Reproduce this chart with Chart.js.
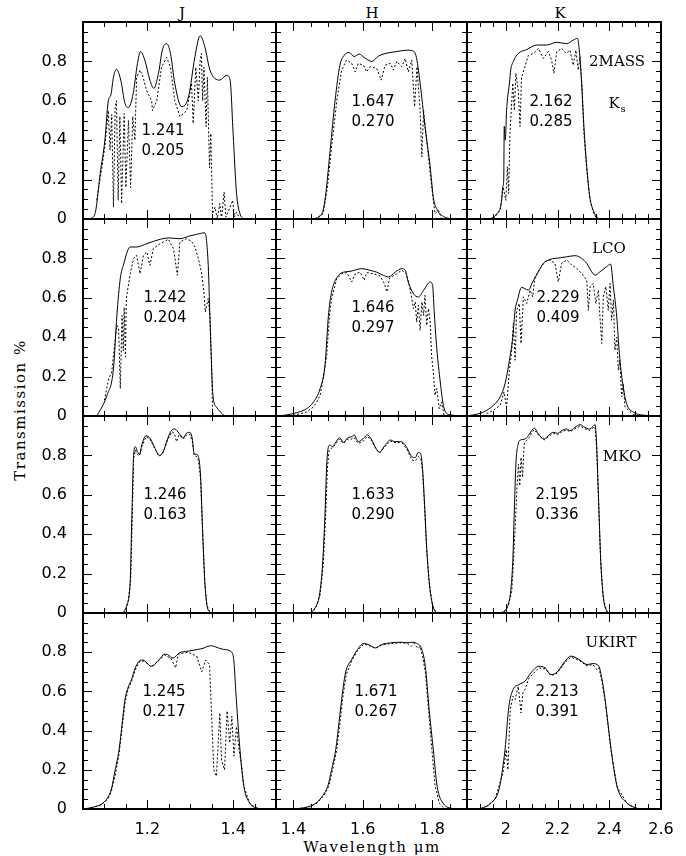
<!DOCTYPE html>
<html>
<head>
<meta charset="utf-8">
<script src="https://cdn.jsdelivr.net/npm/chart.js@4.4.0/dist/chart.umd.min.js"></script>
<style>
  html, body { margin: 0; padding: 0; background: #fff; }
  #wrap { position: relative; width: 686px; height: 856px; overflow: hidden; }
  #wrap canvas { position: absolute; left: 0; top: 0; }
  .lbl { position: absolute; font-family: "DejaVu Serif", serif; font-size: 15px; color: #000;
         white-space: nowrap; transform: translate(-50%, -50%); }
</style>
</head>
<body>
<div id="wrap">
  <div class="lbl" style="left:182px;top:13px">J</div>
  <div class="lbl" style="left:372px;top:13px">H</div>
  <div class="lbl" style="left:560px;top:13px">K</div>
  <div class="lbl" style="left:20px;top:410px;letter-spacing:1.5px;transform:translate(-50%,-50%) rotate(-90deg)">Transmission %</div>
  <div class="lbl" style="left:372px;top:847px;letter-spacing:1.5px">Wavelength &mu;m</div>
</div>
<script>
// axis limits and tick labels
var xLimits = [[1.05, 1.5], [1.35, 1.9], [1.85, 2.6]];
var jTicks = [1.2, 1.4];
var hTicks = [1.4, 1.6, 1.8];
var kTicks = [2, 2.2, 2.4, 2.6];
var yTicks = [0, 0.2, 0.4, 0.6, 0.8];

var systems = ['2MASS', 'LCO', 'MKO', 'UKIRT'];
var lambdaEff = [[1.241, 1.647, 2.162], [1.242, 1.646, 2.229], [1.246, 1.633, 2.195], [1.245, 1.671, 2.213]];
var bandWidth = [[0.205, 0.270, 0.285], [0.204, 0.297, 0.409], [0.163, 0.290, 0.336], [0.217, 0.267, 0.391]];

// [wavelength, transmission]; solid = filter, dotted = filter x atmosphere
var tmJ = [[1.066,0],[1.078,0.027],[1.090,0.23],[1.101,0.40],[1.109,0.60],[1.115,0.63],[1.121,0.72],[1.128,0.76],[1.138,0.705],[1.148,0.586],[1.156,0.566],[1.167,0.637],[1.177,0.79],[1.184,0.85],[1.194,0.807],[1.206,0.705],[1.215,0.663],[1.226,0.739],[1.235,0.858],[1.245,0.89],[1.254,0.84],[1.264,0.688],[1.28,0.57],[1.296,0.62],[1.311,0.824],[1.323,0.93],[1.334,0.875],[1.346,0.756],[1.369,0.705],[1.385,0.73],[1.393,0.705],[1.40,0.434],[1.408,0.13],[1.416,0.027],[1.424,0]];
var tmJAtm = [[1.082,0.095],[1.094,0.26],[1.101,0.366],[1.109,0.55],[1.113,0.35],[1.117,0.53],[1.121,0.06],[1.125,0.57],[1.128,0.60],[1.132,0.095],[1.136,0.52],[1.14,0.078],[1.146,0.535],[1.15,0.16],[1.156,0.50],[1.161,0.16],[1.166,0.52],[1.171,0.40],[1.175,0.72],[1.183,0.756],[1.19,0.72],[1.198,0.654],[1.21,0.60],[1.212,0.55],[1.222,0.60],[1.233,0.77],[1.245,0.82],[1.254,0.77],[1.264,0.60],[1.276,0.52],[1.292,0.55],[1.303,0.69],[1.307,0.485],[1.313,0.77],[1.319,0.60],[1.323,0.80],[1.326,0.84],[1.329,0.60],[1.332,0.77],[1.337,0.47],[1.34,0.72],[1.345,0.26],[1.348,0.434],[1.352,0.027],[1.358,0.06],[1.363,0],[1.369,0.078],[1.373,0],[1.379,0.137],[1.383,0.01],[1.393,0.06],[1.399,0.095],[1.403,0.01],[1.408,0.035],[1.416,0]];
var tmH = [[1.458,0],[1.482,0.027],[1.491,0.095],[1.506,0.35],[1.52,0.60],[1.534,0.78],[1.546,0.83],[1.561,0.845],[1.575,0.825],[1.59,0.837],[1.604,0.82],[1.626,0.80],[1.645,0.827],[1.664,0.84],[1.698,0.85],[1.727,0.857],[1.741,0.855],[1.753,0.83],[1.765,0.69],[1.779,0.47],[1.794,0.265],[1.803,0.11],[1.813,0.05],[1.832,0.013],[1.856,0]];
var tmHAtm = [[1.462,0],[1.486,0.027],[1.498,0.16],[1.511,0.38],[1.525,0.60],[1.539,0.756],[1.553,0.807],[1.568,0.79],[1.578,0.747],[1.587,0.79],[1.602,0.78],[1.611,0.747],[1.621,0.773],[1.64,0.764],[1.653,0.705],[1.664,0.78],[1.679,0.79],[1.688,0.756],[1.698,0.80],[1.712,0.773],[1.722,0.815],[1.731,0.747],[1.741,0.807],[1.749,0.57],[1.756,0.773],[1.765,0.55],[1.77,0.315],[1.775,0.55],[1.784,0.40],[1.794,0.23],[1.803,0.095],[1.808,0.027],[1.818,0.044],[1.827,0]];
var tmK = [[1.939,0],[1.965,0.027],[1.984,0.095],[1.988,0.163],[1.992,0.197],[1.994,0.47],[1.998,0.40],[2.003,0.55],[2.014,0.69],[2.019,0.756],[2.029,0.80],[2.048,0.84],[2.081,0.86],[2.12,0.883],[2.158,0.883],[2.197,0.897],[2.235,0.89],[2.261,0.908],[2.277,0.917],[2.284,0.858],[2.293,0.69],[2.302,0.47],[2.313,0.265],[2.325,0.11],[2.338,0.044],[2.358,0]];
var tmKAtm = [[1.952,0],[1.978,0.044],[1.99,0.163],[2.0,0.095],[2.006,0.265],[2.011,0.13],[2.016,0.434],[2.021,0.55],[2.027,0.69],[2.033,0.55],[2.039,0.74],[2.048,0.654],[2.055,0.47],[2.061,0.72],[2.074,0.773],[2.087,0.83],[2.106,0.84],[2.126,0.866],[2.145,0.815],[2.164,0.85],[2.177,0.807],[2.186,0.74],[2.197,0.85],[2.216,0.866],[2.233,0.84],[2.248,0.857],[2.261,0.78],[2.271,0.857],[2.28,0.756],[2.287,0.824],[2.295,0.67],[2.302,0.434],[2.313,0.247],[2.325,0.103],[2.338,0.036],[2.351,0]];

var lcoJ = [[1.0825,0],[1.106,0.105],[1.121,0.24],[1.129,0.51],[1.137,0.70],[1.144,0.765],[1.16,0.858],[1.175,0.858],[1.199,0.875],[1.23,0.897],[1.249,0.904],[1.276,0.90],[1.299,0.914],[1.315,0.922],[1.334,0.93],[1.342,0.765],[1.347,0.426],[1.353,0.105],[1.361,0.046],[1.38,0]];
var lcoJAtm = [[1.1,0.08],[1.11,0.19],[1.117,0.223],[1.121,0.308],[1.129,0.46],[1.133,0.443],[1.137,0.139],[1.141,0.51],[1.144,0.33],[1.146,0.55],[1.149,0.30],[1.151,0.596],[1.16,0.722],[1.168,0.80],[1.175,0.816],[1.183,0.722],[1.191,0.816],[1.199,0.832],[1.206,0.765],[1.214,0.85],[1.23,0.875],[1.249,0.897],[1.261,0.85],[1.27,0.714],[1.276,0.883],[1.291,0.90],[1.303,0.887],[1.311,0.858],[1.319,0.80],[1.326,0.73],[1.332,0.63],[1.335,0.528],[1.342,0.596],[1.346,0.51],[1.35,0.257],[1.352,0.02],[1.355,0]];
var lcoH = [[1.35,0],[1.371,0.003],[1.41,0.017],[1.438,0.037],[1.458,0.071],[1.477,0.139],[1.491,0.257],[1.501,0.51],[1.508,0.61],[1.515,0.663],[1.53,0.714],[1.544,0.73],[1.563,0.734],[1.582,0.743],[1.597,0.748],[1.621,0.739],[1.64,0.73],[1.659,0.714],[1.674,0.706],[1.693,0.73],[1.712,0.748],[1.722,0.74],[1.731,0.68],[1.746,0.62],[1.76,0.604],[1.775,0.638],[1.794,0.68],[1.801,0.663],[1.805,0.545],[1.813,0.342],[1.823,0.173],[1.832,0.054],[1.847,0.008],[1.9,0]];
var lcoHAtm = [[1.4,0.003],[1.438,0.02],[1.458,0.046],[1.467,0.071],[1.477,0.105],[1.486,0.19],[1.496,0.308],[1.504,0.51],[1.51,0.596],[1.525,0.697],[1.539,0.722],[1.554,0.728],[1.568,0.68],[1.578,0.722],[1.592,0.73],[1.604,0.689],[1.611,0.728],[1.63,0.722],[1.65,0.71],[1.662,0.672],[1.669,0.63],[1.677,0.70],[1.698,0.722],[1.712,0.74],[1.725,0.722],[1.734,0.663],[1.741,0.596],[1.746,0.545],[1.751,0.579],[1.755,0.477],[1.76,0.562],[1.765,0.435],[1.77,0.579],[1.775,0.51],[1.779,0.613],[1.784,0.46],[1.789,0.545],[1.794,0.477],[1.798,0.308],[1.803,0.223],[1.808,0.105],[1.813,0.139],[1.82,0.037],[1.827,0.071],[1.834,0.003],[1.842,0]];
var lcoK = [[1.85,0.002],[1.862,0.003],[1.913,0.02],[1.952,0.054],[1.978,0.097],[1.997,0.164],[2.014,0.283],[2.027,0.40],[2.036,0.537],[2.045,0.588],[2.061,0.653],[2.087,0.639],[2.104,0.681],[2.126,0.732],[2.145,0.775],[2.171,0.795],[2.21,0.803],[2.235,0.808],[2.268,0.814],[2.293,0.80],[2.313,0.775],[2.332,0.732],[2.345,0.715],[2.364,0.732],[2.39,0.758],[2.405,0.771],[2.416,0.656],[2.429,0.503],[2.439,0.317],[2.452,0.164],[2.467,0.063],[2.493,0.02],[2.545,0.003],[2.6,0]];
var lcoKAtm = [[1.926,0.012],[1.952,0.029],[1.978,0.054],[1.993,0.122],[2.003,0.046],[2.014,0.232],[2.023,0.334],[2.029,0.469],[2.036,0.283],[2.042,0.537],[2.052,0.571],[2.059,0.368],[2.068,0.605],[2.081,0.571],[2.094,0.639],[2.104,0.605],[2.113,0.707],[2.132,0.749],[2.152,0.783],[2.171,0.792],[2.19,0.775],[2.203,0.681],[2.216,0.775],[2.235,0.792],[2.255,0.766],[2.274,0.749],[2.293,0.724],[2.313,0.69],[2.319,0.537],[2.326,0.656],[2.338,0.673],[2.348,0.571],[2.358,0.639],[2.364,0.503],[2.371,0.368],[2.377,0.605],[2.387,0.656],[2.396,0.537],[2.403,0.673],[2.409,0.486],[2.416,0.588],[2.422,0.334],[2.429,0.40],[2.435,0.232],[2.441,0.283],[2.448,0.097],[2.454,0.164],[2.461,0.046],[2.474,0.029],[2.493,0.008],[2.519,0]];

var mkoJ = [[1.144,0],[1.152,0.04],[1.16,0.16],[1.164,0.497],[1.168,0.80],[1.172,0.844],[1.177,0.819],[1.182,0.805],[1.187,0.853],[1.197,0.90],[1.206,0.887],[1.218,0.836],[1.228,0.799],[1.237,0.819],[1.247,0.883],[1.257,0.929],[1.264,0.934],[1.274,0.912],[1.284,0.89],[1.291,0.912],[1.299,0.917],[1.305,0.883],[1.309,0.81],[1.315,0.805],[1.319,0.794],[1.324,0.70],[1.329,0.413],[1.334,0.159],[1.339,0.04],[1.347,0]];
var mkoJAtm = [[1.146,0],[1.154,0.04],[1.161,0.16],[1.165,0.497],[1.168,0.785],[1.172,0.827],[1.177,0.805],[1.182,0.799],[1.187,0.844],[1.197,0.895],[1.206,0.883],[1.218,0.832],[1.228,0.795],[1.237,0.815],[1.247,0.876],[1.257,0.92],[1.263,0.912],[1.268,0.87],[1.274,0.904],[1.284,0.883],[1.291,0.904],[1.299,0.907],[1.305,0.87],[1.309,0.799],[1.315,0.794],[1.319,0.777],[1.324,0.684],[1.329,0.404],[1.334,0.151],[1.339,0.037],[1.347,0]];
var mkoH = [[1.448,0],[1.462,0.024],[1.475,0.091],[1.484,0.244],[1.491,0.497],[1.496,0.751],[1.5,0.836],[1.506,0.853],[1.512,0.844],[1.52,0.861],[1.533,0.89],[1.544,0.866],[1.557,0.89],[1.568,0.895],[1.575,0.904],[1.587,0.87],[1.602,0.887],[1.613,0.904],[1.626,0.878],[1.638,0.836],[1.648,0.816],[1.661,0.844],[1.679,0.878],[1.693,0.87],[1.705,0.87],[1.715,0.866],[1.727,0.839],[1.741,0.794],[1.751,0.789],[1.76,0.816],[1.767,0.805],[1.772,0.734],[1.777,0.582],[1.784,0.328],[1.792,0.142],[1.801,0.04],[1.811,0]];
var mkoHAtm = [[1.45,0],[1.464,0.024],[1.477,0.091],[1.486,0.244],[1.493,0.497],[1.498,0.734],[1.503,0.827],[1.512,0.839],[1.52,0.853],[1.533,0.883],[1.544,0.861],[1.557,0.883],[1.568,0.883],[1.575,0.89],[1.587,0.86],[1.602,0.874],[1.613,0.897],[1.626,0.873],[1.638,0.832],[1.648,0.812],[1.661,0.839],[1.679,0.873],[1.693,0.865],[1.705,0.865],[1.715,0.86],[1.727,0.832],[1.741,0.777],[1.751,0.772],[1.76,0.794],[1.767,0.785],[1.772,0.717],[1.777,0.565],[1.784,0.32],[1.792,0.139],[1.801,0.037],[1.811,0]];
var mkoK = [[1.978,0],[1.997,0.012],[2.01,0.046],[2.019,0.113],[2.027,0.266],[2.033,0.52],[2.039,0.756],[2.048,0.858],[2.057,0.878],[2.074,0.883],[2.087,0.90],[2.1,0.926],[2.11,0.939],[2.126,0.909],[2.148,0.883],[2.168,0.905],[2.184,0.917],[2.2,0.912],[2.216,0.926],[2.235,0.934],[2.248,0.926],[2.267,0.942],[2.287,0.956],[2.306,0.942],[2.323,0.934],[2.336,0.946],[2.345,0.956],[2.351,0.858],[2.358,0.604],[2.367,0.266],[2.377,0.08],[2.39,0.012],[2.403,0]];
var mkoKAtm = [[1.98,0],[2.0,0.012],[2.012,0.046],[2.023,0.113],[2.03,0.266],[2.038,0.486],[2.044,0.655],[2.049,0.756],[2.054,0.646],[2.059,0.79],[2.065,0.689],[2.071,0.858],[2.08,0.875],[2.091,0.892],[2.1,0.917],[2.11,0.931],[2.126,0.904],[2.148,0.878],[2.168,0.898],[2.184,0.912],[2.2,0.905],[2.216,0.919],[2.235,0.929],[2.248,0.92],[2.267,0.935],[2.287,0.949],[2.306,0.935],[2.323,0.927],[2.336,0.939],[2.345,0.946],[2.351,0.841],[2.358,0.587],[2.367,0.257],[2.377,0.076],[2.39,0.008],[2.403,0]];

var ukJ = [[1.05,0],[1.075,0.01],[1.097,0.03],[1.108,0.06],[1.116,0.1],[1.125,0.2],[1.134,0.30],[1.142,0.45],[1.148,0.56],[1.155,0.62],[1.163,0.66],[1.172,0.72],[1.181,0.754],[1.19,0.76],[1.195,0.754],[1.209,0.728],[1.228,0.763],[1.24,0.79],[1.247,0.788],[1.26,0.77],[1.275,0.797],[1.294,0.805],[1.317,0.814],[1.33,0.82],[1.341,0.83],[1.35,0.833],[1.359,0.827],[1.378,0.814],[1.397,0.80],[1.402,0.75],[1.406,0.609],[1.416,0.303],[1.425,0.116],[1.439,0.03],[1.462,0]];
var ukJAtm = [[1.06,0],[1.09,0.02],[1.108,0.05],[1.116,0.09],[1.125,0.17],[1.134,0.28],[1.142,0.43],[1.148,0.54],[1.155,0.61],[1.163,0.65],[1.172,0.71],[1.181,0.75],[1.19,0.755],[1.195,0.75],[1.209,0.725],[1.228,0.76],[1.24,0.785],[1.255,0.77],[1.266,0.72],[1.272,0.79],[1.294,0.80],[1.305,0.79],[1.315,0.78],[1.327,0.70],[1.336,0.76],[1.345,0.737],[1.35,0.47],[1.355,0.2],[1.361,0.167],[1.369,0.49],[1.373,0.25],[1.38,0.20],[1.386,0.50],[1.392,0.337],[1.397,0.473],[1.402,0.27],[1.408,0.42],[1.414,0.30],[1.42,0.218],[1.425,0.116],[1.439,0.027],[1.458,0]];
var ukH = [[1.4,0],[1.44,0.01],[1.465,0.03],[1.485,0.07],[1.499,0.116],[1.51,0.2],[1.522,0.303],[1.532,0.45],[1.539,0.558],[1.55,0.694],[1.568,0.763],[1.585,0.814],[1.602,0.844],[1.615,0.84],[1.625,0.83],[1.636,0.822],[1.654,0.839],[1.682,0.848],[1.711,0.851],[1.728,0.848],[1.745,0.851],[1.755,0.845],[1.768,0.822],[1.78,0.728],[1.791,0.507],[1.803,0.303],[1.814,0.116],[1.831,0.03],[1.86,0]];
var ukHAtm = [[1.41,0],[1.445,0.01],[1.468,0.03],[1.488,0.07],[1.502,0.116],[1.513,0.2],[1.525,0.303],[1.535,0.45],[1.541,0.55],[1.552,0.685],[1.568,0.755],[1.585,0.81],[1.602,0.84],[1.615,0.837],[1.625,0.828],[1.636,0.82],[1.654,0.836],[1.682,0.845],[1.711,0.848],[1.728,0.845],[1.74,0.83],[1.748,0.845],[1.758,0.82],[1.765,0.83],[1.772,0.78],[1.78,0.70],[1.79,0.49],[1.8,0.28],[1.808,0.12],[1.82,0.03],[1.835,0]];
var ukK = [[1.896,0],[1.943,0.03],[1.974,0.1],[1.987,0.2],[1.997,0.303],[2.012,0.524],[2.028,0.609],[2.051,0.635],[2.074,0.652],[2.097,0.694],[2.128,0.728],[2.152,0.72],[2.175,0.686],[2.198,0.698],[2.229,0.754],[2.252,0.78],[2.283,0.763],[2.314,0.737],[2.337,0.742],[2.36,0.728],[2.372,0.66],[2.384,0.558],[2.407,0.303],[2.43,0.116],[2.469,0.03],[2.515,0]];
var ukKAtm = [[1.912,0],[1.958,0.048],[1.989,0.184],[2.002,0.303],[2.008,0.2],[2.017,0.507],[2.028,0.575],[2.036,0.558],[2.048,0.626],[2.059,0.49],[2.066,0.592],[2.074,0.609],[2.09,0.669],[2.128,0.72],[2.152,0.715],[2.175,0.68],[2.198,0.692],[2.229,0.748],[2.252,0.775],[2.283,0.758],[2.314,0.73],[2.337,0.737],[2.352,0.711],[2.36,0.72],[2.372,0.65],[2.384,0.55],[2.407,0.3],[2.43,0.113],[2.469,0.028],[2.51,0]];

var curves = [
  [[tmJ, tmJAtm], [tmH, tmHAtm], [tmK, tmKAtm]],
  [[lcoJ, lcoJAtm], [lcoH, lcoHAtm], [lcoK, lcoKAtm]],
  [[mkoJ, mkoJAtm], [mkoH, mkoHAtm], [mkoK, mkoKAtm]],
  [[ukJ, ukJAtm], [ukH, ukHAtm], [ukK, ukKAtm]]
];
var xTicks = [jTicks, hTicks, kTicks];

// page layout (pixels)
var colX = [83, 276, 467, 661];
var rowY = [22, 219, 416, 613, 809];
var xAxisH = 30;
// centre of the first number line in each panel
var numPos = [
  [[163, 131], [373, 102], [551, 102]],
  [[165, 298], [373, 308], [558, 298]],
  [[165, 495], [373, 495], [557, 495]],
  [[164, 692], [376, 692], [557, 692]]
];
var namePos = [[617, 62], [609, 249], [622, 457], [611, 643]];

var numFont = '15px "DejaVu Sans"';
var serifFont = '15px "DejaVu Serif"';

var panelFrame = {
  id: 'panelFrame',
  afterDraw: function(chart, args, opts) {
    var ctx = chart.ctx, a = chart.chartArea;
    var xs = chart.scales.x, ys = chart.scales.y;
    ctx.save();
    ctx.strokeStyle = '#000';
    ctx.lineWidth = 1;
    ctx.beginPath();
    var i, p, len;
    for (i = Math.ceil(xs.min * 20 - 1e-6); i <= Math.floor(xs.max * 20 + 1e-6); i++) {
      p = Math.round(xs.getPixelForValue(i / 20)) + 0.5;
      len = (i % 4 === 0) ? 9 : 5;
      ctx.moveTo(p, a.bottom); ctx.lineTo(p, a.bottom - len);
      ctx.moveTo(p, a.top); ctx.lineTo(p, a.top + len);
    }
    for (i = 0; i <= 20; i++) {
      p = Math.round(ys.getPixelForValue(i / 20)) + 0.5;
      len = (i % 4 === 0) ? 9 : 5;
      ctx.moveTo(a.left, p); ctx.lineTo(a.left + len, p);
      ctx.moveTo(a.right, p); ctx.lineTo(a.right - len, p);
    }
    ctx.stroke();
    ctx.lineWidth = 2;
    ctx.strokeRect(a.left, a.top, a.right - a.left, a.bottom - a.top);

    ctx.fillStyle = '#000';
    ctx.textAlign = 'center';
    ctx.textBaseline = 'middle';
    ctx.font = numFont;
    ctx.fillText(opts.center.toFixed(3), opts.pos[0], opts.pos[1]);
    ctx.fillText(opts.width.toFixed(3), opts.pos[0], opts.pos[1] + 20);
    if (opts.name) {
      ctx.font = serifFont;
      ctx.fillText(opts.name, opts.namePos[0], opts.namePos[1]);
      if (opts.name === '2MASS') {
        ctx.fillText('K', 614, 104);
        ctx.font = '10px "DejaVu Serif"';
        ctx.fillText('s', 623, 109);
      }
    }
    ctx.restore();
  }
};

function toXY(pts) {
  return pts.map(function(p) { return {x: p[0], y: p[1]}; });
}

var wrap = document.getElementById('wrap');

for (var r = 0; r < 4; r++) {
  for (var c = 0; c < 3; c++) {
    (function(r, c) {
      var canvas = document.createElement('canvas');
      canvas.width = 686;
      canvas.height = 856;
      wrap.appendChild(canvas);
      var solid = curves[r][c][0], dotted = curves[r][c][1];
      var showX = r === 3, showY = c === 0;
      new Chart(canvas, {
        type: 'line',
        data: {
          datasets: [
            { data: toXY(solid), borderColor: '#000', borderWidth: 1, pointRadius: 0,
              cubicInterpolationMode: 'monotone' },
            { data: toXY(dotted), borderColor: '#000', borderWidth: 1, borderDash: [2, 2],
              pointRadius: 0, tension: 0 }
          ]
        },
        options: {
          responsive: false,
          animation: false,
          devicePixelRatio: 1,
          events: [],
          layout: { padding: {
            left: showY ? 0 : colX[c],
            top: rowY[r],
            right: 686 - colX[c + 1],
            bottom: showX ? 856 - rowY[r + 1] - xAxisH : 856 - rowY[r + 1]
          } },
          plugins: {
            legend: { display: false },
            tooltip: { enabled: false },
            panelFrame: {
              center: lambdaEff[r][c], width: bandWidth[r][c], pos: numPos[r][c],
              name: c === 2 ? systems[r] : null, namePos: namePos[r]
            }
          },
          scales: {
            x: {
              type: 'linear', min: xLimits[c][0], max: xLimits[c][1],
              display: showX,
              grid: { display: false }, border: { display: false },
              afterBuildTicks: function(s) { s.ticks = xTicks[c].map(function(v) { return {value: v}; }); },
              afterFit: function(s) { s.height = showX ? xAxisH : 0; },
              ticks: { padding: 3, color: '#000', font: { family: 'DejaVu Sans', size: 16 },
                       maxRotation: 0, autoSkip: false,
                       callback: function(v) { return String(v); } }
            },
            y: {
              type: 'linear', min: 0, max: 1,
              display: showY,
              grid: { display: false }, border: { display: false },
              afterBuildTicks: function(s) { s.ticks = yTicks.map(function(v) { return {value: v}; }); },
              afterFit: function(s) { s.width = showY ? colX[0] : 0; },
              ticks: { padding: 8, color: '#000', font: { family: 'DejaVu Sans', size: 16 },
                       autoSkip: false,
                       callback: function(v) { return String(v); } }
            }
          }
        },
        plugins: [panelFrame]
      });
    })(r, c);
  }
}
</script>
</body>
</html>
